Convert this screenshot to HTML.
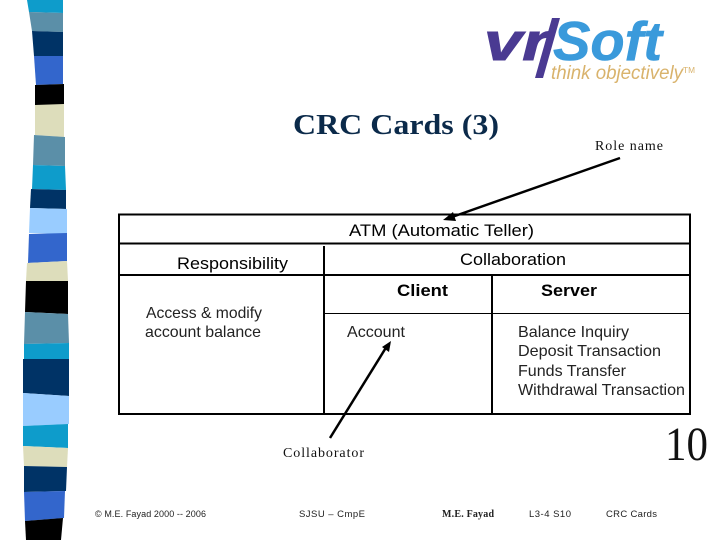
<!DOCTYPE html>
<html><head><meta charset="utf-8"><style>
html,body{margin:0;padding:0;background:#fff}
svg{display:block}
text{white-space:pre}
.s{font-family:"Liberation Sans",sans-serif}
.r{font-family:"Liberation Serif",serif}
</style></head><body>
<svg width="720" height="540" viewBox="0 0 720 540" xmlns="http://www.w3.org/2000/svg">
<g shape-rendering="geometricPrecision">
<polygon fill="#0E9CCB" points="27,0 63,0 63,13 29,12"/>
<polygon fill="#5B8FA8" points="29,12 63,13 63,32 32,31"/>
<polygon fill="#003366" points="32,31 63,32 63,56 34,56"/>
<polygon fill="#3366CC" points="34,56 63,56 63,84 36,85"/>
<polygon fill="#000000" points="35,85 64,84 64,105 35,105"/>
<polygon fill="#DDDDBB" points="35,105 64,104 64,137 35,135"/>
<polygon fill="#5B8FA8" points="34,135 65,137 65,166 33,165"/>
<polygon fill="#0E9CCB" points="33,165 65,166 66,190 32,189"/>
<polygon fill="#003366" points="31,189 66,190 66,209 30,208"/>
<polygon fill="#99CCFF" points="30,208 67,209 67,234 29,233"/>
<polygon fill="#3366CC" points="29,234 67,233 67,261 28,263"/>
<polygon fill="#DDDDBB" points="27,263 67,261 68,281 26,281"/>
<polygon fill="#000000" points="26,281 68,281 68,314 25,312"/>
<polygon fill="#5B8FA8" points="25,312 68,314 69,343 24,344"/>
<polygon fill="#0E9CCB" points="24,344 69,343 69,359 24,359"/>
<polygon fill="#003366" points="23,359 69,359 69,396 23,393"/>
<polygon fill="#99CCFF" points="23,393 69,396 69,424 23,426"/>
<polygon fill="#0E9CCB" points="23,426 68,424 68,448 23,446"/>
<polygon fill="#DDDDBB" points="23,446 68,448 67,467 24,466"/>
<polygon fill="#003366" points="24,466 67,467 66,491 24,492"/>
<polygon fill="#3366CC" points="24,492 65,491 64,518 25,521"/>
<polygon fill="#000000" points="25,521 63,518 61,540 26,540"/>
</g>

<!-- logo -->
<text x="484" y="60" class="s" font-size="53" font-weight="bold" font-style="italic" fill="#4A3A92" stroke="#4A3A92" stroke-width="1" textLength="65" lengthAdjust="spacingAndGlyphs">vr</text>
<polygon fill="#4A3A92" points="552,18 560,18 543,78 535,78"/>
<text x="553" y="60" class="s" font-size="55" font-weight="bold" font-style="italic" fill="#3A9ADB" stroke="#3A9ADB" stroke-width="0.600" textLength="109" lengthAdjust="spacingAndGlyphs">Soft</text>
<text x="551" y="79" class="s" font-size="19" font-style="italic" fill="#D9B36C" textLength="132" lengthAdjust="spacingAndGlyphs">think objectively</text>
<text x="683" y="73" class="s" font-size="8" fill="#D9B36C" textLength="12" lengthAdjust="spacingAndGlyphs">TM</text>

<text x="293" y="134" class="r" font-size="29" font-weight="bold" fill="#0b2a4a" textLength="206" lengthAdjust="spacingAndGlyphs">CRC Cards (3)</text>
<text x="595" y="150" class="r" font-size="14" fill="#111" textLength="68" lengthAdjust="spacing">Role name</text>

<!-- table -->
<g stroke="#000" fill="none">
<rect x="119" y="214.500" width="571" height="199.500" stroke-width="2"/>
<line x1="119" y1="243.500" x2="690" y2="243.500" stroke-width="2"/>
<line x1="119" y1="275" x2="690" y2="275" stroke-width="2"/>
<line x1="324" y1="246" x2="324" y2="414" stroke-width="2"/>
<line x1="492" y1="275" x2="492" y2="414" stroke-width="2"/>
<line x1="324" y1="313.500" x2="690" y2="313.500" stroke-width="1"/>
</g>

<g class="s" font-size="17" fill="#000">
<text x="349" y="236" textLength="185" lengthAdjust="spacingAndGlyphs">ATM (Automatic Teller)</text>
<text x="177" y="269" textLength="111" lengthAdjust="spacingAndGlyphs">Responsibility</text>
<text x="460" y="265" textLength="106" lengthAdjust="spacingAndGlyphs">Collaboration</text>
<text x="397" y="296" font-weight="bold" textLength="51" lengthAdjust="spacingAndGlyphs">Client</text>
<text x="541" y="296" font-weight="bold" textLength="56" lengthAdjust="spacingAndGlyphs">Server</text>
</g>
<g class="s" font-size="16" fill="#222">
<text x="146" y="318" textLength="116" lengthAdjust="spacingAndGlyphs">Access &amp; modify</text>
<text x="145" y="337" textLength="116" lengthAdjust="spacingAndGlyphs">account balance</text>
<text x="347" y="337" textLength="58" lengthAdjust="spacingAndGlyphs">Account</text>
<text x="518" y="337" textLength="111" lengthAdjust="spacingAndGlyphs">Balance Inquiry</text>
<text x="518" y="356" textLength="143" lengthAdjust="spacingAndGlyphs">Deposit Transaction</text>
<text x="518" y="376" textLength="108" lengthAdjust="spacingAndGlyphs">Funds Transfer</text>
<text x="518" y="395" textLength="167" lengthAdjust="spacingAndGlyphs">Withdrawal Transaction</text>
</g>

<!-- arrows -->
<g stroke="#000" stroke-width="2.500" fill="none">
<line x1="620" y1="158" x2="452" y2="217"/>
<line x1="330" y1="438" x2="387" y2="346"/>
</g>
<polygon fill="#000" points="443,220 453,212 456,221"/>
<polygon fill="#000" points="391,341 389,352 382,347"/>

<text x="283" y="457" class="r" font-size="14" fill="#111" textLength="81" lengthAdjust="spacing">Collaborator</text>
<text x="665" y="460" class="r" font-size="48" fill="#111" textLength="43" lengthAdjust="spacingAndGlyphs">10</text>

<!-- footer -->
<g fill="#222">
<text x="95" y="517" class="s" font-size="9" textLength="111" lengthAdjust="spacing">© M.E. Fayad 2000 -- 2006</text>
<text x="299" y="517" class="s" font-size="9.500" textLength="66" lengthAdjust="spacing">SJSU – CmpE</text>
<text x="442" y="517" class="r" font-size="10" font-weight="bold" textLength="52" lengthAdjust="spacing">M.E. Fayad</text>
<text x="529" y="517" class="s" font-size="9.500" textLength="42" lengthAdjust="spacing">L3-4 S10</text>
<text x="606" y="517" class="s" font-size="9.500" textLength="51" lengthAdjust="spacing">CRC Cards</text>
</g>
</svg>
</body></html>
